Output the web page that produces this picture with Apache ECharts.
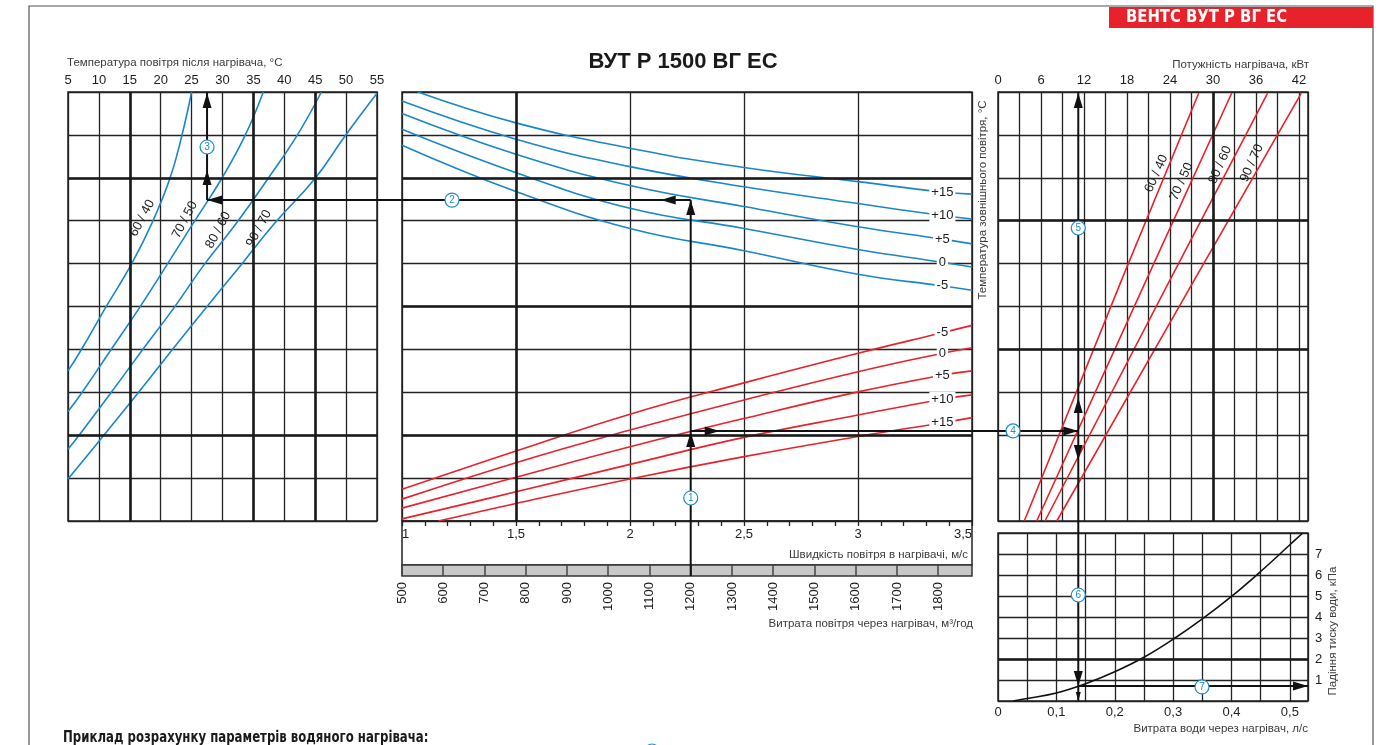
<!DOCTYPE html>
<html>
<head>
<meta charset="utf-8">
<title>ВУТ Р 1500 ВГ ЕС</title>
<script src="https://cdn.jsdelivr.net/npm/echarts@6/dist/echarts.min.js"></script>
<style>
  html, body { margin: 0; padding: 0; background: #fff; }
  #chart { width: 1383px; height: 745px; }
</style>
</head>
<body>
<div id="chart"></div>
<script>
// ---------- data ----------
// Rows of the nomogram share one unitless scale 0..10 (top panels).

// Left panel: air temperature after heater (°C) vs row, per water regime
const regimeNames = ['60 / 40', '70 / 50', '80 / 60', '90 / 70'];
const after6040 = [[5, 3.5], [7.1, 3.98], [11.1, 4.98], [15.2, 5.97], [18.6, 6.95], [21.5, 7.99], [23.4, 8.97], [25.0, 10]];
const after7050 = [[5, 2.55], [7.1, 2.96], [11.9, 3.98], [16.6, 4.98], [21.0, 5.97], [25.3, 6.95], [29.9, 7.99], [33.6, 8.97], [36.6, 10]];
const after8060 = [[5, 1.67], [6.7, 1.98], [11.8, 2.96], [17.0, 3.98], [22.2, 4.98], [27.0, 5.97], [32.3, 6.95], [37.4, 7.99], [42.0, 8.97], [46.0, 10]];
const after9070 = [[5, 0.98], [10.7, 1.98], [16.2, 2.96], [21.8, 3.98], [27.4, 4.98], [33.0, 5.97], [38.5, 6.95], [45.0, 7.99], [49.8, 8.97], [55.0, 9.97]];

// Middle panel, upper family (blue): air velocity (m/s) vs row, per outdoor temperature
const riseNames = ['+15', '+10', '+5', '0', '-5'];
const riseP15 = [[1.07, 10], [1.5, 9.28], [2.0, 8.69], [2.5, 8.24], [3.0, 7.91], [3.37, 7.67], [3.5, 7.62]];
const riseP10 = [[1.0, 9.79], [1.5, 8.90], [2.0, 8.26], [2.5, 7.79], [3.0, 7.40], [3.37, 7.12], [3.5, 7.04]];
const riseP5  = [[1.0, 9.50], [1.5, 8.55], [2.0, 7.82], [2.5, 7.33], [3.0, 6.86], [3.37, 6.57], [3.5, 6.46]];
const rise0   = [[1.0, 9.13], [1.5, 8.12], [2.0, 7.29], [2.5, 6.82], [3.0, 6.33], [3.37, 6.03], [3.5, 5.92]];
const riseM5  = [[1.0, 8.76], [1.5, 7.68], [2.0, 6.82], [2.5, 6.30], [3.0, 5.75], [3.37, 5.48], [3.5, 5.38]];

// Middle panel, lower family (red): air velocity (m/s) vs row, per outdoor temperature
const loadNames = ['-5', '0', '+5', '+10', '+15'];
const loadM5  = [[1.0, 0.74], [1.5, 1.63], [2.0, 2.49], [2.5, 3.22], [3.0, 3.91], [3.37, 4.39], [3.5, 4.56]];
const load0   = [[1.0, 0.51], [1.5, 1.36], [2.0, 2.12], [2.5, 2.82], [3.0, 3.48], [3.37, 3.91], [3.5, 4.04]];
const loadP5  = [[1.0, 0.30], [1.5, 1.02], [2.0, 1.73], [2.5, 2.39], [3.0, 3.01], [3.37, 3.40], [3.5, 3.50]];
const loadP10 = [[1.0, 0.05], [1.5, 0.68], [2.0, 1.32], [2.5, 1.95], [3.0, 2.47], [3.37, 2.84], [3.5, 2.94]];
const loadP15 = [[1.16, 0.0], [1.5, 0.41], [2.0, 0.98], [2.5, 1.50], [3.0, 1.97], [3.37, 2.29], [3.5, 2.41]];

// Right panel: heater power (kW) vs row, per water regime
const power6040 = [[3.67, 0], [17.25, 5.62], [28.0, 9.97]];
const power7050 = [[5.4, 0], [20.7, 5.62], [32.6, 9.97]];
const power8060 = [[6.55, 0], [24.0, 5.62], [37.6, 9.97]];
const power9070 = [[8.2, 0], [27.4, 5.62], [42.3, 9.97]];

// Bottom right: water pressure drop (kPa) vs water flow (l/s)
const waterDrop = [[0.026, 0], [0.05, 0.12], [0.1, 0.38], [0.15, 0.82], [0.2, 1.39], [0.25, 2.08], [0.3, 2.94], [0.35, 3.91], [0.4, 4.98], [0.45, 6.17], [0.5, 7.44], [0.522, 8.0]];

// Worked example (path of arrows)
const exampleFlow = 1200;        // m³/год
const exampleRowUpper = 7.48;    // row reached on the +5 blue curve
const exampleRowLower = 2.10;    // row reached on the +5 red curve
const exampleTempAfter = 27.5;   // °C on the 70/50 line
const examplePower = 11.2;       // kW on the 70/50 line
const exampleWater = 0.137;      // l/s
const examplePressure = 0.72;    // kPa

// ---------- styles ----------
const FONT = '"Liberation Sans", Arial, sans-serif';
const NARROW = '"Liberation Sans Narrow", "DejaVu Sans Condensed", "Liberation Sans", sans-serif';
const INK = '#1c1c1c';
const GRIDLINE = { lineStyle: { color: '#222', width: 1.3 } };
const BLUE = '#1b86c8';
const RED = '#e8222b';
const MARK_BLUE = '#1b8bd0';
const comma = v => String(+v.toFixed(2)).replace('.', ',');

const chart = echarts.init(document.getElementById('chart'), null, { renderer: 'canvas' });

function frameGrid(left, top, width, height, extra) {
  return Object.assign({ left, top, width, height, show: true, borderColor: '#222', borderWidth: 1.5, backgroundColor: 'transparent' }, extra || {});
}

const hiddenAxisBits = { axisLine: { show: false }, axisTick: { show: false }, axisLabel: { show: false } };
const tickLabel = { fontSize: 13, color: INK, fontFamily: FONT };

function curve(name, data, color, xi, yi, smooth) {
  return {
    type: 'line', name, data, xAxisIndex: xi, yAxisIndex: yi,
    showSymbol: false, symbol: 'none', smooth: smooth, silent: true, clip: true,
    lineStyle: { color, width: 1.6 }, z: 3
  };
}

// heavier grid lines used on the printed chart
function heavyLines(xi, yi, xs, ys) {
  return {
    type: 'line', xAxisIndex: xi, yAxisIndex: yi, data: [], silent: true, z: 2,
    markLine: {
      silent: true, symbol: ['none', 'none'], label: { show: false },
      lineStyle: { color: '#1a1a1a', width: 2.6, type: 'solid' },
      animation: false,
      data: xs.map(v => ({ xAxis: v })).concat(ys.map(v => ({ yAxis: v })))
    }
  };
}

// text on a curve with a white knock-out behind it
function onCurveLabel(series, idx, text) {
  series.markPoint = {
    silent: true, symbol: 'circle', symbolSize: 1, itemStyle: { color: 'rgba(0,0,0,0)' },
    animation: false,
    label: { show: true, position: 'inside', formatter: '{b}', color: INK, fontSize: 13, fontFamily: FONT,
             backgroundColor: '#fff', padding: [1, 2] },
    data: [{ name: text, coord: series.data[idx] }]
  };
  return series;
}

// rotated regime tag next to a line
function regimeTag(series, coord, text, rot) {
  series.markPoint = {
    silent: true, symbol: 'circle', symbolSize: 1, itemStyle: { color: 'rgba(0,0,0,0)' },
    animation: false,
    label: { show: true, position: 'inside', formatter: '{b}', color: INK, fontSize: 13, fontFamily: FONT, rotate: rot },
    data: [{ name: text, coord }]
  };
  return series;
}

const series = [];
// left panel
const afterSets = [after6040, after7050, after8060, after9070];
const leftTagAt = [[17.0, 7.06], [23.9, 7.02], [29.3, 6.78], [35.9, 6.82]];
afterSets.forEach((d, i) => series.push(regimeTag(curve(regimeNames[i], d, BLUE, 0, 0, 0.45), leftTagAt[i], regimeNames[i], 62)));
series.push(heavyLines(0, 0, [15, 35, 45], [8, 2]));

// middle panel
[riseP15, riseP10, riseP5, rise0, riseM5].forEach((d, i) => series.push(onCurveLabel(curve('t' + riseNames[i], d, BLUE, 1, 1, 0.45), 5, riseNames[i])));
[loadM5, load0, loadP5, loadP10, loadP15].forEach((d, i) => series.push(onCurveLabel(curve('q' + loadNames[i], d, RED, 1, 1, 0.45), 5, loadNames[i])));
series.push(heavyLines(1, 1, [1.5], [8, 5, 2]));

// right panel
const powerSets = [power6040, power7050, power8060, power9070];
const rightTagAt = [[22.1, 8.10], [25.6, 7.91], [31.0, 8.30], [35.4, 8.34]];
powerSets.forEach((d, i) => series.push(regimeTag(curve('p' + regimeNames[i], d, RED, 4, 4, false), rightTagAt[i], regimeNames[i], 66)));
series.push(heavyLines(4, 4, [30], [7, 4]));

// pressure drop
series.push(curve('dp', waterDrop, '#111', 5, 5, 0.4));
series.push(heavyLines(5, 5, [], [2]));

const tickStyle = { lineStyle: { color: '#222', width: 1.3 } };

const option = {
  animation: false,
  backgroundColor: '#fff',
  grid: [
    frameGrid(68, 92, 309, 429),
    frameGrid(402, 92, 570, 429),
    frameGrid(402, 521, 570, 44),
    frameGrid(402, 565, 570, 11, { backgroundColor: '#c8c8c8', borderColor: '#333' }),
    frameGrid(998, 92, 310, 429),
    frameGrid(998, 533, 310, 168)
  ],
  xAxis: [
    { gridIndex: 0, type: 'value', position: 'top', min: 5, max: 55, interval: 5,
      axisLine: { show: false }, axisTick: { show: false },
      axisLabel: Object.assign({ margin: 5 }, tickLabel), splitLine: GRIDLINE },
    // velocity grid lines of the middle panel, with its 0.1 m/s ticks hanging below
    { gridIndex: 1, type: 'value', position: 'bottom', min: 1, max: 3.5, interval: 0.5,
      axisLine: { show: false },
      axisTick: Object.assign({ show: true, inside: false, length: 5 }, tickStyle),
      minorTick: Object.assign({ show: true, splitNumber: 5, length: 5 }, tickStyle),
      axisLabel: { show: false },
      splitLine: GRIDLINE },
    // velocity labels in the strip below
    { gridIndex: 2, type: 'value', position: 'top', min: 1, max: 3.5, interval: 0.5,
      axisLine: { show: false }, axisTick: { show: false },
      axisLabel: Object.assign({ inside: true, margin: 7, formatter: v => comma(v), alignMinLabel: 'left', alignMaxLabel: 'right' }, tickLabel),
      splitLine: { show: false } },
    { gridIndex: 3, type: 'value', position: 'bottom', min: 500, max: 1882, interval: 100,
      axisLine: { show: false },
      axisTick: { show: true, inside: true, length: 11, lineStyle: { color: '#444', width: 1.5 } },
      axisLabel: Object.assign({ rotate: 90, margin: 6, showMaxLabel: false, formatter: v => String(Math.round(v)) }, tickLabel),
      splitLine: { show: false } },
    { gridIndex: 4, type: 'value', position: 'top', min: 0, max: 43.25, interval: 3,
      axisLine: { show: false }, axisTick: { show: false },
      axisLabel: Object.assign({ margin: 5, showMaxLabel: false,
        formatter: v => (Math.abs(v - Math.round(v)) < 1e-6 && Math.round(v) % 6 === 0) ? String(Math.round(v)) : '' }, tickLabel),
      splitLine: GRIDLINE },
    { gridIndex: 5, type: 'value', position: 'bottom', min: 0, max: 0.531, interval: 0.05,
      axisLine: { show: false }, axisTick: { show: false },
      axisLabel: Object.assign({ margin: 5, showMaxLabel: false,
        formatter: v => Math.abs(v * 10 - Math.round(v * 10)) < 1e-6 ? comma(v) : '' }, tickLabel),
      splitLine: GRIDLINE }
  ],
  yAxis: [
    Object.assign({ gridIndex: 0, type: 'value', min: 0, max: 10, interval: 1, splitLine: GRIDLINE }, hiddenAxisBits),
    Object.assign({ gridIndex: 1, type: 'value', min: 0, max: 10, interval: 1, splitLine: GRIDLINE }, hiddenAxisBits),
    Object.assign({ gridIndex: 2, type: 'value', min: 0, max: 1, splitLine: { show: false } }, hiddenAxisBits),
    Object.assign({ gridIndex: 3, type: 'value', min: 0, max: 1, splitLine: { show: false } }, hiddenAxisBits),
    Object.assign({ gridIndex: 4, type: 'value', min: 0, max: 10, interval: 1, splitLine: GRIDLINE }, hiddenAxisBits),
    { gridIndex: 5, type: 'value', position: 'right', min: 0, max: 8, interval: 1,
      axisLine: { show: false }, axisTick: { show: false },
      axisLabel: Object.assign({ margin: 7, showMinLabel: false, showMaxLabel: false }, tickLabel),
      splitLine: GRIDLINE }
  ],
  series
};
chart.setOption(option);

// ---------- page furniture, titles and the worked-example arrows ----------
function px(finder, v) { return chart.convertToPixel(finder, v); }

const xF = px({ xAxisIndex: 3 }, exampleFlow);
const yU = px({ yAxisIndex: 1 }, exampleRowUpper);
const yL = px({ yAxisIndex: 1 }, exampleRowLower);
const xT = px({ xAxisIndex: 0 }, exampleTempAfter);
const xP = px({ xAxisIndex: 4 }, examplePower);
const yDp = px({ yAxisIndex: 5 }, examplePressure);
const yTop = px({ yAxisIndex: 1 }, 10);
const yBarBottom = 576;
const yDropBottom = px({ yAxisIndex: 5 }, 0);
const xDropRight = px({ xAxisIndex: 5 }, 0.531);

const ARROW = { stroke: '#111', lineWidth: 2 };
function seg(x1, y1, x2, y2) {
  return { type: 'line', z: 100, silent: true, shape: { x1, y1, x2, y2 }, style: ARROW };
}
function head(x, y, dir, len, half) {
  len = len || 15; half = half || 4.5;
  let pts;
  if (dir === 'up') pts = [[x, y], [x - half, y + len], [x + half, y + len]];
  else if (dir === 'down') pts = [[x, y], [x - half, y - len], [x + half, y - len]];
  else if (dir === 'left') pts = [[x, y], [x + len, y - half], [x + len, y + half]];
  else pts = [[x, y], [x - len, y - half], [x - len, y + half]];
  return { type: 'polygon', z: 101, silent: true, shape: { points: pts }, style: { fill: '#111' } };
}
// numbered step marker: white disc with a blue ring and blue digit
function badge(x, y, n) {
  return [
    { type: 'circle', z: 102, silent: true, shape: { cx: x, cy: y, r: 7 }, style: { fill: '#fff', stroke: MARK_BLUE, lineWidth: 1.2 } },
    { type: 'text', z: 103, silent: true, x: x, y: y + 0.5, style: { text: String(n), fill: MARK_BLUE, fontSize: 10, fontFamily: FONT, align: 'center', verticalAlign: 'middle' } }
  ];
}
function label(x, y, text, opts) {
  return { type: 'text', silent: true, z: 50, x, y, rotation: (opts && opts.rotation) || 0,
    style: Object.assign({ text, fill: '#3a3a3a', fontSize: 11.5, fontFamily: FONT, align: 'left', verticalAlign: 'middle' }, opts && opts.style) };
}

const graphic = [
  // page frame
  { type: 'polyline', silent: true, shape: { points: [[29, 745], [29, 6], [1373, 6], [1373, 745]] }, style: { stroke: '#555', lineWidth: 1.2, fill: null } },
  // series badge
  { type: 'rect', silent: true, shape: { x: 1109, y: 7, width: 264, height: 21 }, style: { fill: '#e8222b' } },
  { type: 'text', silent: true, x: 1126, y: 18, scaleX: 0.97, style: { text: 'ВЕНТС ВУТ Р ВГ ЕС', fill: '#fff', fontSize: 17, fontWeight: 'bold', fontFamily: NARROW, verticalAlign: 'middle' } },
  // chart title
  { type: 'text', silent: true, x: 683, y: 62, style: { text: 'ВУТ Р 1500 ВГ ЕС', fill: '#1a1a1a', fontSize: 22, fontWeight: 'bold', fontFamily: FONT, align: 'center', verticalAlign: 'middle' } },
  // axis titles
  label(67, 63, 'Температура повітря після нагрівача, °С'),
  label(1309, 65, 'Потужність нагрівача, кВт', { style: { align: 'right' } }),
  label(968, 555, 'Швидкість повітря в нагрівачі, м/с', { style: { align: 'right' } }),
  label(973, 624, 'Витрата повітря через нагрівач, м³/год', { style: { align: 'right' } }),
  label(1308, 729, 'Витрата води через нагрівач, л/с', { style: { align: 'right' } }),
  label(983, 200, 'Температура зовнішнього повітря, °С', { rotation: Math.PI / 2, style: { align: 'center' } }),
  label(1333, 631, 'Падіння тиску води, кПа', { rotation: Math.PI / 2, style: { align: 'center' } }),
  // caption of the worked example below the chart
  { type: 'text', silent: true, x: 63, y: 738, scaleX: 0.87, style: { text: 'Приклад розрахунку параметрів водяного нагрівача:', fill: '#1a1a1a', fontSize: 15, fontWeight: 'bold', fontFamily: NARROW, verticalAlign: 'middle' } },
  { type: 'circle', silent: true, shape: { cx: 652, cy: 751, r: 7 }, style: { fill: '#fff', stroke: MARK_BLUE, lineWidth: 1.2 } },

  // 1: air flow up to the curves
  seg(xF, yBarBottom, xF, yU),
  head(xF, yL + 1, 'up'),
  head(xF, yU, 'up'),
  // 2: across to the left panel
  seg(xF, yU, xT, yU),
  head(xF - 30, yU, 'left'),
  head(xT, yU, 'left'),
  // 3: up to the outlet air temperature
  seg(xT, yU, xT, yTop),
  head(xT, yU - 30, 'up'),
  head(xT, yTop + 1, 'up'),
  // 4: across to the right panel
  seg(xF, yL, xP, yL),
  head(xF + 29, yL, 'right'),
  head(xP, yL, 'right'),
  // 5: up to the heater power
  seg(xP, yL, xP, yTop),
  head(xP, yL - 33, 'up'),
  head(xP, yTop + 1, 'up'),
  // 6: down to the water flow
  seg(xP, yL, xP, yDropBottom),
  head(xP, yL + 29, 'down'),
  head(xP, yDp, 'down'),
  head(xP, yDropBottom, 'down', 9, 2.5),
  // 7: across to the pressure drop
  seg(xP, yDp, xDropRight, yDp),
  head(xDropRight, yDp, 'right')
].concat(
  badge(xF, 498, 1),
  badge(452, yU, 2),
  badge(xT, 147, 3),
  badge(1013, yL, 4),
  badge(xP, 228, 5),
  badge(xP, 595, 6),
  badge(1202, yDp + 1, 7)
);
chart.setOption({ graphic });
</script>
</body>
</html>
